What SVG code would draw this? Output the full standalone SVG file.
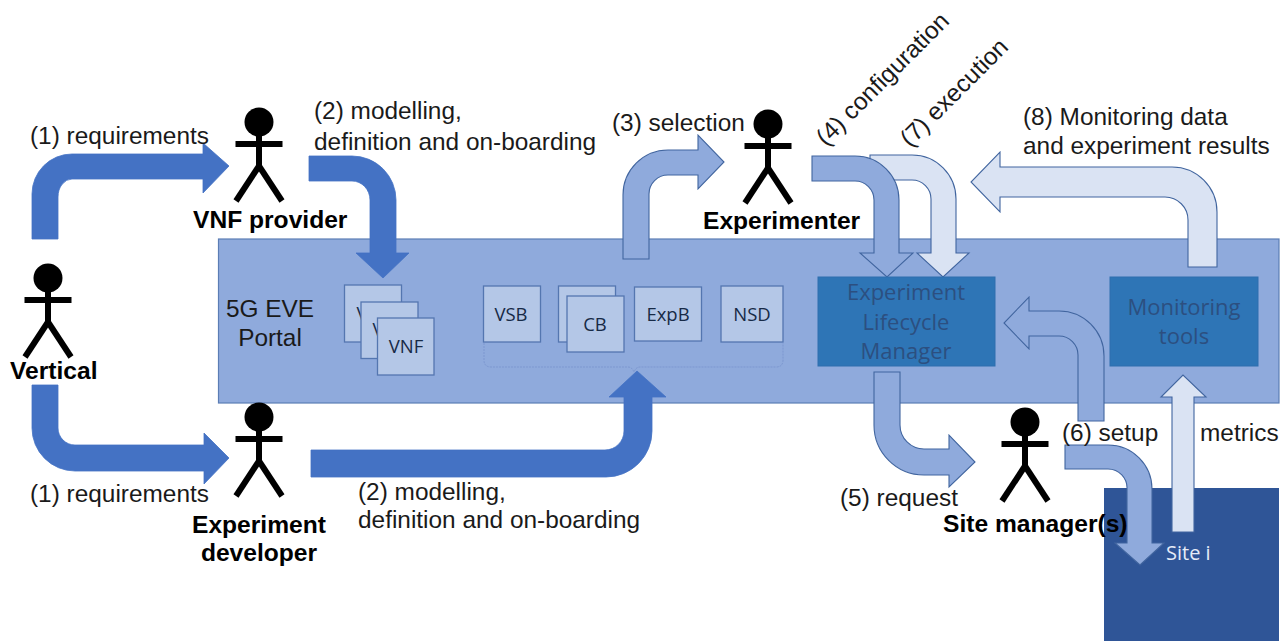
<svg xmlns="http://www.w3.org/2000/svg" width="1284" height="641" viewBox="0 0 1284 641">
<style>
text{font-family:"Liberation Sans",Arial,sans-serif;font-size:24.4px;fill:#1a1a1a}
.b{font-weight:bold;fill:#000;font-size:24.6px}
.m{text-anchor:middle}
.box{fill:#b4c7e7;stroke:#5476b0;stroke-width:1.3}
.boxt{font-family:"Open Sans","Noto Sans",sans-serif;font-size:18.5px;text-anchor:middle;fill:#172a46}
.core{fill:#2e75b6;stroke:#2f6fae;stroke-width:1}
.coret{font-family:"Open Sans","Noto Sans",sans-serif;font-size:22px;text-anchor:middle;fill:#2c4f80}
.a1{fill:#4472c4;stroke:#4472c4;stroke-width:.8}
.a2{fill:#8faadc;stroke:#41659f;stroke-width:1.1}
.a3{fill:#dae3f3;stroke:#41659f;stroke-width:1.1}
.stick line{stroke:#000;stroke-width:6}
</style>
<defs>
<g id="stick" class="stick">
<circle cx="0" cy="0" r="14.5" fill="#000"/>
<line x1="0" y1="10" x2="0" y2="45"/>
<line x1="-23.500" y1="22" x2="23.500" y2="22"/>
<line x1="-23" y1="79" x2="0" y2="44"/>
<line x1="23" y1="79" x2="0" y2="44"/>
</g>
</defs>
<g id="portal">
<rect x="218.500" y="239" width="1060.500" height="164" fill="#8faadc" stroke="#5b7db5" stroke-width="1.200"/>
<text x="270" y="317" class="m">5G EVE</text>
<text x="270" y="346" class="m">Portal</text>
</g>
<g id="site">
<rect x="1104" y="488" width="175" height="153" fill="#2f5597"/>
</g>
<g id="brace">
<path d="M484 343V360Q484 367 491 367H628Q632 367 634 372Q636 367 640 367H776Q783 367 783 360V343" fill="none" stroke="#7c97d0" stroke-width="1" stroke-dasharray="2 1"/>
</g>
<g id="connectors">
<path class="a1" d="M32 239V194A40 40 0 0 1 72 154H203V143L229 166L203 193V179H72A14 18 0 0 0 58 197V239Z"/>
<path class="a1" d="M309 156H352A44 44 0 0 1 396 200V253H409L383 278L356 253H370V200A18 19 0 0 0 352 181H309Z"/>
<path class="a1" d="M32 385V428A43 43 0 0 0 75 471H204V484L229 458L204 433V445H75A17 17 0 0 1 58 428V385Z"/>
<path class="a1" d="M311 450H605A19 19 0 0 0 624 431V397H609L637 371L666 397H652V431A46 46 0 0 1 606 477H311Z"/>
<path class="a2" d="M623 259V195A45 45 0 0 1 668 150H698V135L724 162L698 189V175H668A19 19 0 0 0 649 194V259Z"/>
<path class="a3" d="M870 155H912A44 44 0 0 1 956 199V253H969L943 277L917 253H931V199A19 19 0 0 0 912 180H870Z"/>
<path class="a2" d="M812 156H855A44 44 0 0 1 899 200V253H913L887 277L860 253H874V200A19 19 0 0 0 855 181H812Z"/>
<path class="a3" d="M1217 267V212A45 45 0 0 0 1172 167H1000V152L971 182L1000 212V197H1165A23 23 0 0 1 1188 220V267Z"/>
<path class="a2" d="M1104 421V356A45 45 0 0 0 1059 311H1029V297L1004 323L1029 349V336H1059A19 19 0 0 1 1078 355V421Z"/>
<path class="a2" d="M874 372V425A50 50 0 0 0 924 475H949V487L975 462L949 435V449H924A24 24 0 0 1 900 425V372Z"/>
<path class="a2" d="M1065 445H1108A44 44 0 0 1 1152 489V543H1164L1140 565L1115 543H1127V489A19 19 0 0 0 1108 469H1065Z" stroke="#6f8fd0"/>
<path class="a3" d="M1172 532V397H1161L1183 375L1206 397H1194V532Z" stroke="#dae3f3"/>
</g>
<g id="connector-labels">
<text x="30" y="144">(1) requirements</text>
<text x="30" y="502">(1) requirements</text>
<text x="314" y="119">(2) modelling,</text>
<text x="314" y="150">definition and on-boarding</text>
<text x="358" y="500">(2) modelling,</text>
<text x="358" y="528">definition and on-boarding</text>
<text x="612" y="131">(3) selection</text>
<text transform="translate(826 147) rotate(-45)">(4) configuration</text>
<text transform="translate(910 148) rotate(-45)">(7) execution</text>
<text x="1023" y="125">(8) Monitoring data</text>
<text x="1023" y="154">and experiment results</text>
<text x="840" y="506">(5) request</text>
<text x="1062" y="441">(6) setup</text>
<text x="1200" y="441">metrics</text>
</g>
<g id="vertical"><use href="#stick" x="48" y="278"/><text x="10" y="379" class="b">Vertical</text></g>
<g id="vnf-provider"><use href="#stick" x="259" y="122"/><text x="193" y="228" class="b">VNF provider</text></g>
<g id="experiment-developer"><use href="#stick" x="259" y="417"/><text x="259" y="533" class="b m">Experiment</text><text x="259" y="561" class="b m">developer</text></g>
<g id="experimenter"><use href="#stick" x="768" y="124"/><text x="703" y="229" class="b">Experimenter</text></g>
<g id="site-manager"><use href="#stick" x="1025" y="422"/><text x="943" y="532" class="b">Site manager(s)</text></g>
<g id="vnf1"><rect class="box" x="344.500" y="285" width="57" height="57"/><text class="boxt" x="362" y="320">V</text></g>
<g id="vnf2"><rect class="box" x="361" y="302" width="57" height="56.500"/><text class="boxt" x="378" y="336">V</text></g>
<g id="vnf3"><rect class="box" x="377.500" y="318" width="56.500" height="57"/><text class="boxt" x="406" y="353">VNF</text></g>
<g id="vsb"><rect class="box" x="483.500" y="286" width="57" height="56"/><text class="boxt" x="511" y="321">VSB</text></g>
<g id="cb1"><rect class="box" x="558.500" y="286" width="57" height="56"/></g>
<g id="cb2"><rect class="box" x="567" y="296" width="57" height="56"/><text class="boxt" x="595" y="331">CB</text></g>
<g id="expb"><rect class="box" x="634.500" y="287" width="67" height="54"/><text class="boxt" x="668" y="321">ExpB</text></g>
<g id="nsd"><rect class="box" x="721" y="286" width="62" height="56"/><text class="boxt" x="752" y="321">NSD</text></g>
<g id="elm"><rect class="core" x="818" y="277" width="177" height="89"/><text class="coret" x="906" y="300">Experiment</text><text class="coret" x="906" y="330">Lifecycle</text><text class="coret" x="906" y="359">Manager</text></g>
<g id="monitoring"><rect class="core" x="1110" y="277" width="148" height="89"/><text class="coret" x="1184" y="315">Monitoring</text><text class="coret" x="1184" y="344">tools</text></g>
<g id="site-label"><text x="1166" y="560" style="font-family:'Open Sans','Noto Sans',sans-serif;font-size:20px;fill:#e6ecf7">Site i</text></g>
</svg>
